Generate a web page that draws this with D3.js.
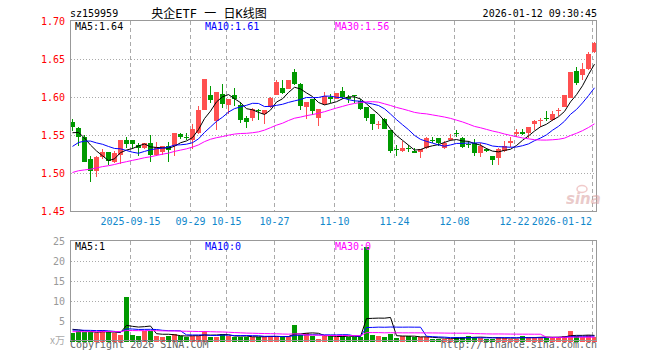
<!DOCTYPE html>
<html><head><meta charset="utf-8">
<script src="https://cdn.jsdelivr.net/npm/d3@7"></script>
<style>
body{margin:0;background:#fff}
svg{display:block}
text{font-family:"DejaVu Sans Mono",monospace;font-size:10px}
</style>
</head><body>
<svg id="c" width="660" height="360"></svg>
<script>
const dates = [
"2025-09-01","2025-09-02","2025-09-03","2025-09-04","2025-09-05","2025-09-08","2025-09-09","2025-09-10","2025-09-11","2025-09-12",
"2025-09-15","2025-09-16","2025-09-17","2025-09-18","2025-09-19","2025-09-22","2025-09-23","2025-09-24","2025-09-25","2025-09-26",
"2025-09-29","2025-09-30","2025-10-09","2025-10-10","2025-10-13","2025-10-14","2025-10-15","2025-10-16","2025-10-17","2025-10-20",
"2025-10-21","2025-10-22","2025-10-23","2025-10-24","2025-10-27","2025-10-28","2025-10-29","2025-10-30","2025-10-31","2025-11-03",
"2025-11-04","2025-11-05","2025-11-06","2025-11-07","2025-11-10","2025-11-11","2025-11-12","2025-11-13","2025-11-14","2025-11-17",
"2025-11-18","2025-11-19","2025-11-20","2025-11-21","2025-11-24","2025-11-25","2025-11-26","2025-11-27","2025-11-28","2025-12-01",
"2025-12-02","2025-12-03","2025-12-04","2025-12-05","2025-12-08","2025-12-09","2025-12-10","2025-12-11","2025-12-12","2025-12-15",
"2025-12-16","2025-12-17","2025-12-18","2025-12-19","2025-12-22","2025-12-23","2025-12-24","2025-12-25","2025-12-26","2025-12-29",
"2025-12-30","2025-12-31","2026-01-05","2026-01-06","2026-01-07","2026-01-08","2026-01-09","2026-01-12"];

const openP = [1.567,1.559,1.547,1.518,1.502,1.521,1.528,1.515,1.524,1.544,
1.543,1.537,1.533,1.539,1.524,1.527,1.535,1.535,1.551,1.547,
1.544,1.552,1.583,1.602,1.568,1.604,1.589,1.602,1.590,1.572,
1.572,1.583,1.577,1.587,1.603,1.612,1.611,1.633,1.617,1.587,
1.597,1.572,1.591,1.600,1.597,1.608,1.600,1.602,1.595,1.587,
1.577,1.563,1.571,1.557,1.532,1.529,1.533,1.529,1.528,1.533,
1.544,1.546,1.533,1.543,1.552,1.546,1.538,1.540,1.526,1.531,
1.523,1.520,1.529,1.539,1.551,1.554,1.552,1.565,1.569,1.572,
1.570,1.582,1.587,1.599,1.634,1.629,1.637,1.659];
const highP = [1.571,1.561,1.550,1.523,1.522,1.531,1.528,1.529,1.543,1.548,
1.543,1.539,1.540,1.550,1.541,1.536,1.541,1.552,1.552,1.553,
1.564,1.588,1.624,1.614,1.607,1.617,1.598,1.612,1.594,1.575,
1.586,1.584,1.583,1.600,1.623,1.623,1.623,1.637,1.619,1.594,
1.598,1.584,1.607,1.604,1.605,1.613,1.602,1.603,1.597,1.587,
1.577,1.568,1.572,1.557,1.537,1.542,1.537,1.533,1.532,1.547,
1.547,1.546,1.542,1.551,1.557,1.547,1.542,1.545,1.539,1.533,
1.523,1.533,1.542,1.547,1.558,1.558,1.561,1.570,1.572,1.581,
1.581,1.586,1.603,1.633,1.640,1.645,1.659,1.672];
const lowP = [1.555,1.535,1.514,1.488,1.495,1.518,1.510,1.513,1.512,1.533,
1.531,1.523,1.531,1.514,1.523,1.524,1.514,1.523,1.545,1.544,
1.532,1.551,1.583,1.592,1.556,1.586,1.577,1.588,1.566,1.559,
1.568,1.570,1.565,1.586,1.602,1.604,1.610,1.616,1.583,1.571,
1.576,1.562,1.590,1.592,1.597,1.597,1.592,1.592,1.583,1.569,
1.556,1.558,1.558,1.526,1.522,1.528,1.527,1.526,1.520,1.532,
1.539,1.536,1.532,1.542,1.547,1.533,1.533,1.522,1.521,1.527,
1.511,1.510,1.528,1.534,1.547,1.550,1.546,1.557,1.561,1.568,
1.569,1.575,1.587,1.599,1.616,1.622,1.636,1.658];
const closeP = [1.560,1.547,1.515,1.502,1.521,1.528,1.516,1.526,1.543,1.538,
1.538,1.533,1.539,1.524,1.534,1.536,1.530,1.552,1.547,1.546,
1.558,1.583,1.624,1.596,1.607,1.591,1.598,1.597,1.570,1.567,
1.584,1.581,1.583,1.599,1.620,1.605,1.623,1.617,1.588,1.594,
1.581,1.584,1.601,1.598,1.605,1.600,1.597,1.601,1.584,1.573,
1.565,1.564,1.558,1.529,1.531,1.533,1.532,1.526,1.532,1.546,
1.543,1.540,1.540,1.546,1.551,1.534,1.537,1.526,1.535,1.529,
1.517,1.532,1.536,1.542,1.554,1.551,1.561,1.568,1.570,1.571,
1.578,1.583,1.603,1.633,1.618,1.637,1.657,1.671];
// volume (万)
const volume = [1.8,2.3,2.1,2.1,1.8,2.7,2.1,1.8,1.5,10.8,
1.5,1.2,2.3,2.3,1.2,0.8,1.2,1.7,1.1,0.8,
1.2,1.2,2.5,1.0,1.0,1.7,1.1,0.8,1.0,1.0,
0.8,1.0,1.0,1.2,1.0,0.8,1.0,4.0,1.5,1.8,
1.2,0.5,1.2,1.1,1.0,1.2,0.9,1.0,0.8,23.5,
1.5,1.2,0.9,1.7,0.7,1.1,1.1,0.8,0.8,0.8,
0.5,0.5,0.4,0.5,0.8,0.8,1.1,0.8,0.7,0.5,
0.5,0.8,0.7,0.5,0.5,1.1,0.8,0.8,0.8,0.8,
0.8,0.9,1.2,2.3,1.2,0.8,1.25,0.8];
// estimated closes / volumes of the 29 sessions before the window (only feed the moving averages)
const prevCloses = [1.478,1.482,1.475,1.470,1.476,1.480,1.478,1.482,1.488,1.486,
1.485,1.483,1.488,1.480,1.486,1.488,1.484,1.497,1.495,1.489,
1.496,1.496,1.502,1.545,1.546,1.545,1.552,1.548,1.560];
const prevVolumes = [2.0,2.2,1.8,2.1,1.9,2.0,2.3,1.7,2.0,2.1,
1.9,2.2,1.8,2.0,2.1,1.9,2.0,2.2,1.8,2.0,
2.4,2.5,2.3,2.4,2.4,3.0,3.2,2.9,3.1];

const priceTicks = [1.45,1.50,1.55,1.60,1.65,1.70];
const volTicks = [5,10,15,20,25];
const tickDates = ["2025-09-15","2025-09-29","2025-10-15","2025-10-27","2025-11-10","2025-11-24","2025-12-08","2025-12-22","2026-01-12"];
const tickLabels = ["2025-09-15","09-29","10-15","10-27","11-10","11-24","12-08","12-22","2026-01-12"];
const maPeriods = [5,10,30];
const maColors = ["#000","#0000ff","#ff00ff"];
const priceMALabels = ["MA5:1.64","MA10:1.61","MA30:1.56"];
const volMALabels = ["MA5:1","MA10:0","MA30:0"];

const svg = d3.select("#c");
const UP = "#ff5050", DOWN = "#009900";
const x = d3.scaleBand().domain(dates).range([70,598]).padding(0);
const y = d3.scaleLinear().domain([1.45,1.70]).range([211,21]);
const vy = d3.scaleLinear().domain([0,25]).range([340.5,240.5]);

function ma(all, n, offset){
  return d3.range(dates.length).map(i=>{
    const j = i+offset;
    return d3.mean(all.slice(j-n+1, j+1));
  });
}
const allC = prevCloses.concat(closeP);
const allV = prevVolumes.concat(volume);
const off = prevCloses.length;

const g = svg.append("g").attr("shape-rendering","crispEdges");

// header
svg.append("text").attr("x",70).attr("y",17).attr("fill","#000").text("sz159959");
svg.append("text").attr("x",209).attr("y",17.5).attr("text-anchor","middle").attr("fill","#000")
  .style("font-size","12px").style("font-family","'DejaVu Sans Mono','Noto Sans CJK SC',monospace").text("央企ETF 一 日K线图");
svg.append("text").attr("x",597).attr("y",17).attr("text-anchor","end").attr("fill","#000").text("2026-01-12 09:30:45");

// grids main
priceTicks.slice(1,-1).forEach(p=>{
  g.append("line").attr("x1",71).attr("x2",596).attr("y1",Math.round(y(p))+0.5).attr("y2",Math.round(y(p))+0.5)
   .attr("stroke","#aaa").attr("stroke-dasharray","1,2");
});
volTicks.slice(0,-1).forEach(v=>{
  g.append("line").attr("x1",71).attr("x2",596).attr("y1",Math.round(vy(v))+0.5).attr("y2",Math.round(vy(v))+0.5)
   .attr("stroke","#aaa").attr("stroke-dasharray","1,2");
});
tickDates.forEach(d=>{
  const xx = x(d)+0.5;
  g.append("line").attr("x1",xx).attr("x2",xx).attr("y1",21).attr("y2",211).attr("stroke","#aaa").attr("stroke-dasharray","4,3");
  g.append("line").attr("x1",xx).attr("x2",xx).attr("y1",241).attr("y2",340).attr("stroke","#aaa").attr("stroke-dasharray","4,3");
});

// watermark
const wm = svg.append("g").attr("opacity",0.55);
wm.append("ellipse").attr("cx",582).attr("cy",189).attr("rx",5).attr("ry",3.5).attr("fill","none").attr("stroke","#e6a0a0").attr("stroke-width",1.5);
wm.append("text").attr("x",566).attr("y",204).attr("fill","#d9a0a0").style("font-family","'DejaVu Sans',sans-serif")
  .style("font-size","15px").style("font-weight","bold").style("font-style","italic").text("sina");

// candles
dates.forEach((d,i)=>{
  const o=openP[i], c=closeP[i], h=highP[i], l=lowP[i];
  const col = c>=o ? UP : DOWN;
  const xl = x(d);
  g.append("rect").attr("x",xl+2).attr("width",1).attr("y",Math.round(y(h))).attr("height",Math.max(1,Math.round(y(l))-Math.round(y(h)))).attr("fill",col);
  const top = Math.round(y(Math.max(o,c))), bot = Math.round(y(Math.min(o,c)));
  g.append("rect").attr("x",xl).attr("width",5).attr("y",top).attr("height",Math.max(1,bot-top)).attr("fill",col);
  // volume
  const vt = Math.round(vy(volume[i]));
  g.append("rect").attr("x",xl).attr("width",5).attr("y",vt).attr("height",Math.round(vy(0))-vt+0.5).attr("fill",col);
});

// moving averages
maPeriods.forEach((n,k)=>{
  const m = ma(allC,n,off);
  svg.append("path").datum(m).attr("fill","none").attr("stroke",maColors[k]).attr("stroke-width",1)
    .attr("d", d3.line().x((v,i)=>x(dates[i])+2.5).y(v=>y(v)));
  const mv = ma(allV,n,off);
  svg.append("path").datum(mv).attr("fill","none").attr("stroke",maColors[k]).attr("stroke-width",1)
    .attr("d", d3.line().x((v,i)=>x(dates[i])+2.5).y(v=>vy(v)));
});

// borders
g.append("rect").attr("x",70.5).attr("y",20.5).attr("width",526).attr("height",191).attr("fill","none").attr("stroke","#999");
g.append("rect").attr("x",70.5).attr("y",240.5).attr("width",526).attr("height",100).attr("fill","none").attr("stroke","#999");

// axis labels
priceTicks.forEach(p=>{
  svg.append("text").attr("x",65).attr("y",y(p)+4).attr("text-anchor","end").attr("fill","#ff0000").text(p.toFixed(2));
});
volTicks.forEach(v=>{
  svg.append("text").attr("x",65).attr("y",vy(v)+4).attr("text-anchor","end").attr("fill","#999").text(v);
});
svg.append("text").attr("x",65).attr("y",344).attr("text-anchor","end").attr("fill","#aaa")
  .style("font-family","'Noto Sans CJK SC',serif").style("font-size","10px").text("x万");
tickDates.forEach((d,k)=>{
  const last = k===tickDates.length-1;
  svg.append("text").attr("x",x(d)+(last?0:0.5)).attr("y",224.5).attr("text-anchor",last?"end":"middle")
    .attr("fill","#1188cc").text(tickLabels[k]);
});

// MA labels
const labX = [75,205,335];
priceMALabels.forEach((t,k)=>svg.append("text").attr("x",labX[k]).attr("y",29.5).attr("fill",maColors[k]).text(t));
volMALabels.forEach((t,k)=>svg.append("text").attr("x",labX[k]).attr("y",250).attr("fill",maColors[k]).text(t));

// footer
svg.append("text").attr("x",70).attr("y",348).attr("fill","#666").text("Copyright 2026 SINA.COM");
svg.append("text").attr("x",597).attr("y",348).attr("text-anchor","end").attr("fill","#666").text("http://finance.sina.com.cn");
</script>
</body></html>
